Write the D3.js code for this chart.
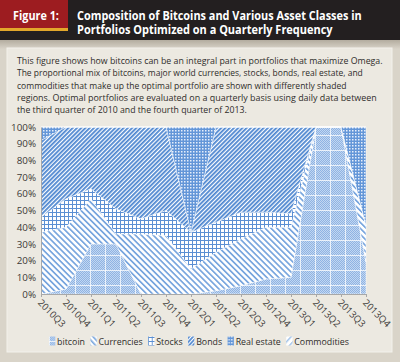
<!DOCTYPE html>
<html>
<head>
<meta charset="utf-8">
<script src="https://cdn.jsdelivr.net/npm/d3@7"></script>
<style>
  body { margin: 0; background: #d9d4c9; }
  svg { display: block; font-family: "Open Sans", sans-serif; }
</style>
</head>
<body>
<div id="chart"></div>
<script>
var quarters = ["2010Q3", "2010Q4", "2011Q1", "2011Q2", "2011Q3", "2011Q4", "2012Q1",
                "2012Q2", "2012Q3", "2012Q4", "2013Q1", "2013Q2", "2013Q3", "2013Q4"];
var bitcoin     = [0, 3, 30, 30, 0, 0, 0, 2, 5, 9, 10, 100, 100, 19];
var currencies  = [37, 37, 27, 6, 36, 35, 15, 23, 28, 31, 30, 0, 0, 22];
var stocks      = [9, 17, 6, 15, 9, 15, 22, 18, 16, 9, 8, 0, 0, 0];
var bonds       = [46, 43, 37, 49, 55, 50, 0, 57, 51, 51, 52, 0, 0, 0];
var realEstate  = [8, 0, 0, 0, 0, 0, 63, 0, 0, 0, 0, 0, 0, 59];
var commodities = [0, 0, 0, 0, 0, 0, 0, 0, 0, 0, 0, 0, 0, 0];
var seriesNames = ["bitcoin", "Currencies", "Stocks", "Bonds", "Real estate", "Commodities"];
var yTicks = [0, 10, 20, 30, 40, 50, 60, 70, 80, 90, 100];

var titleLabel = "Figure 1:";
var titleLines = ["Composition of Bitcoins and Various Asset Classes in",
                  "Portfolios Optimized on a Quarterly Frequency"];
var noteLines = [
  "This figure shows how bitcoins can be an integral part in portfolios that maximize Omega.",
  "The proportional mix of bitcoins, major world currencies, stocks, bonds, real estate, and",
  "commodities that make up the optimal portfolio are shown with differently shaded",
  "regions.  Optimal portfolios are evaluated on a quarterly basis using daily data between",
  "the third quarter of 2010 and the fourth quarter of 2013."
];

var W = 400, H = 362;
var svg = d3.select("#chart").append("svg").attr("width", W).attr("height", H);
var defs = svg.append("defs");

// squeeze a text horizontally to the width it has in the figure (narrow print font)
function fit(sel, px, py, width) {
  var n = sel.node().getComputedTextLength();
  sel.attr("x", 0).attr("y", 0)
     .attr("transform", "translate(" + px + "," + py + ") scale(" + Math.min(1, width / n) + ",1)");
}

// ---- patterns
function stripes(id, size, angle, bg, fg, w) {
  var p = defs.append("pattern").attr("id", id).attr("patternUnits", "userSpaceOnUse")
      .attr("width", size).attr("height", size)
      .attr("patternTransform", "rotate(" + angle + ")");
  p.append("rect").attr("width", size).attr("height", size).attr("fill", bg);
  p.append("rect").attr("width", w).attr("height", size).attr("fill", fg);
}
function grid(id, size, bg, fg, w) {
  var p = defs.append("pattern").attr("id", id).attr("patternUnits", "userSpaceOnUse")
      .attr("width", size).attr("height", size);
  p.append("rect").attr("width", size).attr("height", size).attr("fill", bg);
  p.append("rect").attr("width", size).attr("height", w).attr("fill", fg);
  p.append("rect").attr("width", w).attr("height", size).attr("fill", fg);
}

var dots = defs.append("pattern").attr("id", "btcDots").attr("patternUnits", "userSpaceOnUse")
    .attr("width", 2).attr("height", 2);
dots.append("rect").attr("width", 2).attr("height", 2).attr("fill", "#c2d7f1");
dots.append("rect").attr("width", 1).attr("height", 1).attr("fill", "#8fb3e3");
dots.append("rect").attr("x", 1).attr("y", 1).attr("width", 1).attr("height", 1).attr("fill", "#8fb3e3");
var btc = defs.append("pattern").attr("id", "pBitcoin").attr("patternUnits", "userSpaceOnUse")
    .attr("width", 15).attr("height", 15);
btc.append("rect").attr("width", 15).attr("height", 15).attr("fill", "url(#btcDots)");
btc.append("rect").attr("width", 15).attr("height", 1).attr("fill", "#fff").attr("opacity", 0.75);
btc.append("rect").attr("width", 1).attr("height", 15).attr("fill", "#fff").attr("opacity", 0.75);

stripes("pCurrencies", 4.2, -45, "#ffffff", "#79a6de", 1.7);
grid("pStocks", 4, "#ffffff", "#5b8fd3", 1);
stripes("pBonds", 3, 45, "#ffffff", "#4e87d0", 1.8);
var re = defs.append("pattern").attr("id", "pRealEstate").attr("patternUnits", "userSpaceOnUse")
    .attr("width", 3).attr("height", 3);
re.append("rect").attr("width", 3).attr("height", 3).attr("fill", "#6396d8");
re.append("rect").attr("x", 1).attr("y", 1).attr("width", 1.5).attr("height", 1.5).attr("fill", "#e6eefa");
stripes("pCommodities", 5, 45, "#ffffff", "#9cbfe9", 1.5);

var fills = ["url(#pBitcoin)", "url(#pCurrencies)", "url(#pStocks)", "url(#pBonds)",
             "url(#pRealEstate)", "url(#pCommodities)"];

var bgGrad = defs.append("linearGradient").attr("id", "band").attr("x1", 0).attr("x2", 0).attr("y1", 0).attr("y2", 1);
bgGrad.append("stop").attr("offset", 0).attr("stop-color", "#b3ac9f");
bgGrad.append("stop").attr("offset", 1).attr("stop-color", "#d9d4c9");

// ---- frame
svg.append("rect").attr("width", W).attr("height", H).attr("fill", "#d9d4c9");
svg.append("rect").attr("y", 40).attr("width", W).attr("height", 9).attr("fill", "url(#band)");
svg.append("rect").attr("x", 7).attr("y", 48).attr("width", 385).attr("height", 304)
    .attr("fill", "#ece9e1").attr("stroke", "#f3f1ec").attr("stroke-width", 1);

svg.append("rect").attr("width", W).attr("height", 40).attr("fill", "#231f20");
svg.append("rect").attr("width", 68).attr("height", 28).attr("fill", "#9d1c20");
svg.append("rect").attr("y", 28).attr("width", 68).attr("height", 3).attr("fill", "#e3a72b");

var fig = svg.append("text").attr("fill", "#fff")
    .attr("font-size", 12.5).attr("font-weight", "bold").text(titleLabel);
fit(fig, 13, 20, 46);
titleLines.forEach((line, i) => {
  var t = svg.append("text").attr("fill", "#fff")
      .attr("font-size", 12.5).attr("font-weight", "bold").text(line);
  fit(t, 77, 20 + i * 13.5, [285, 256][i]);
});

noteLines.forEach((line, i) => {
  var t = svg.append("text").attr("fill", "#2e2c2a").attr("font-size", 9.8).text(line);
  fit(t, 17, 64 + i * 12.3, [366, 346, 330, 360, 230][i]);
});

// ---- chart
var x = d3.scalePoint().domain(quarters).range([41, 366]);
var y = d3.scaleLinear().domain([0, 100]).range([294, 127]);

var rows = quarters.map((q, i) => ({
  q: q,
  "bitcoin": bitcoin[i], "Currencies": currencies[i], "Stocks": stocks[i],
  "Bonds": bonds[i], "Real estate": realEstate[i], "Commodities": commodities[i]
}));
var stacked = d3.stack().keys(seriesNames)(rows);

var area = d3.area()
    .x(d => x(d.data.q))
    .y0(d => y(d[0]))
    .y1(d => y(d[1]));

svg.append("rect").attr("x", 41).attr("y", 127).attr("width", 325).attr("height", 167).attr("fill", "#fff");

svg.append("g").selectAll("path").data(stacked).enter().append("path")
    .attr("d", area)
    .attr("fill", (d, i) => fills[i])
    .attr("stroke", "#ffffff").attr("stroke-width", 0.6).attr("stroke-opacity", 0.8);

var yAxis = svg.append("g").attr("transform", "translate(41,0)")
    .call(d3.axisLeft(y).tickValues(yTicks).tickFormat(d => d + "%").tickSize(0).tickPadding(5));
yAxis.select(".domain").attr("stroke", "#a8a8a8");
yAxis.selectAll("text").attr("font-size", 9.8).attr("fill", "#3c3a38").attr("font-family", "Open Sans, sans-serif");

var xAxis = svg.append("g").attr("transform", "translate(0,294)")
    .call(d3.axisBottom(x).tickSize(3).tickSizeOuter(0));
xAxis.select(".domain").attr("stroke", "#a8a8a8");
xAxis.selectAll("line").attr("stroke", "#a8a8a8");
xAxis.selectAll("text")
    .attr("font-size", 9.5).attr("fill", "#3c3a38").attr("font-family", "Open Sans, sans-serif")
    .attr("text-anchor", "start")
    .attr("x", 0).attr("y", 0).attr("dy", "0.35em")
    .attr("transform", "translate(-2,7) rotate(45)");

// ---- legend
var legend = svg.append("g");
var lx = 0;
seriesNames.forEach((name, i) => {
  var item = legend.append("g").attr("transform", "translate(" + lx + ",0)");
  item.append("rect").attr("x", 0).attr("y", -4.5).attr("width", 7).attr("height", 9).attr("fill", fills[i]);
  var t = item.append("text").attr("x", 9).attr("y", 3.5)
      .attr("font-size", 9.8).attr("fill", "#2e2c2a").text(name);
  lx += 9 + t.node().getComputedTextLength() + (i < seriesNames.length - 1 ? 6 : 0);
});
legend.attr("transform", "translate(49,341) scale(" + (300 / lx) + ",1)");
</script>
</body>
</html>
